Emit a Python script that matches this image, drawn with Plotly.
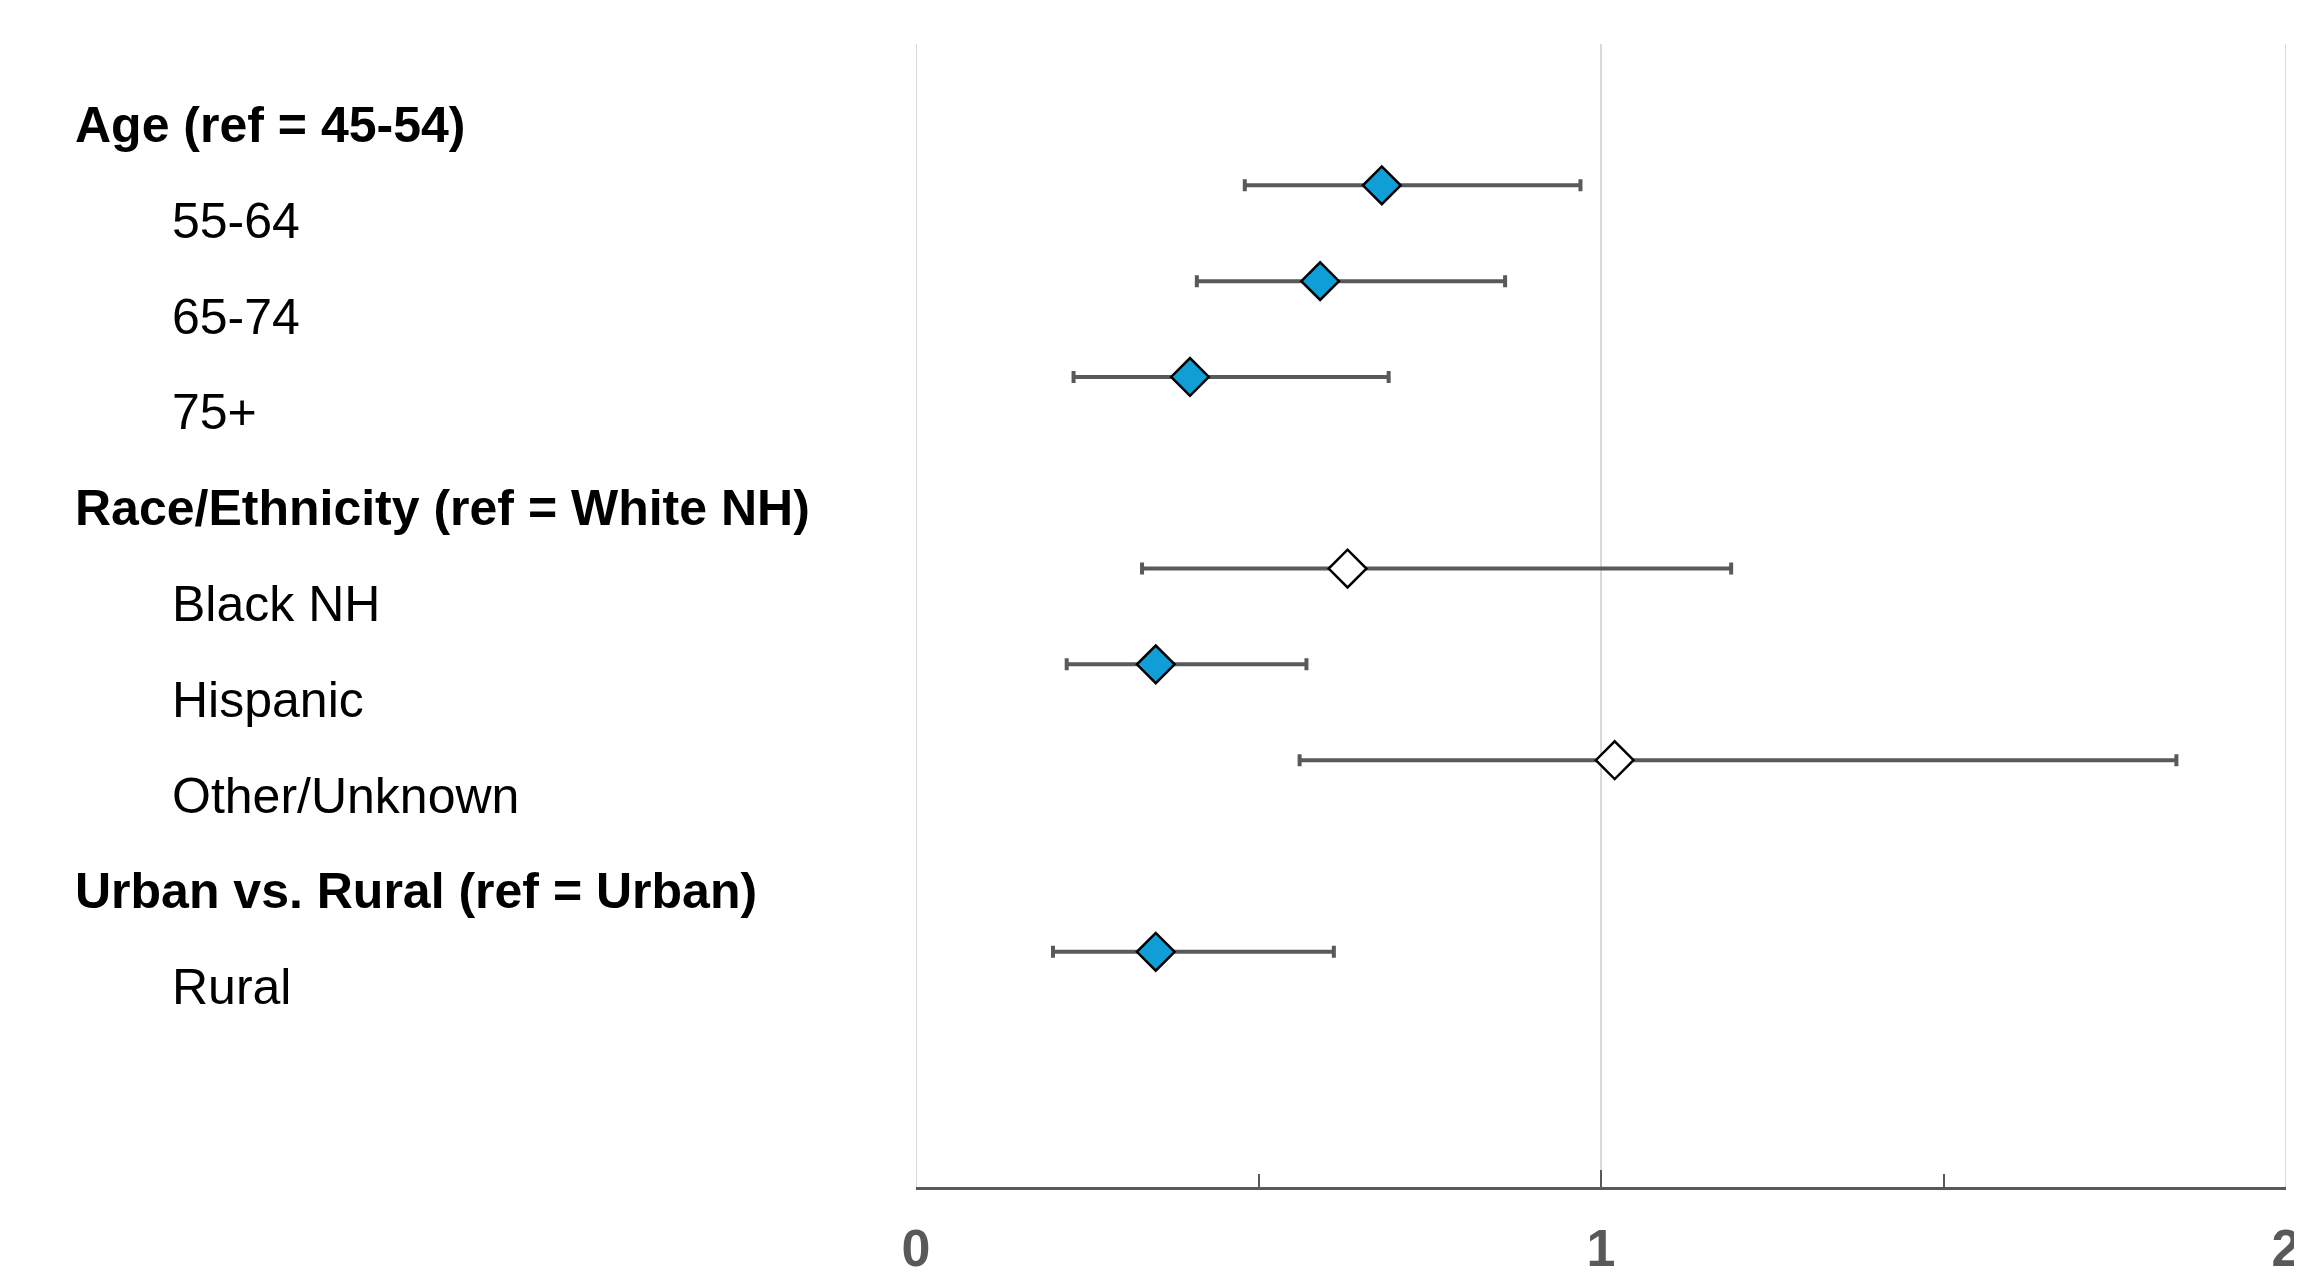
import plotly.graph_objects as go

# ---- data ----
row_labels = ["Age (ref = 45-54)", "55-64", "65-74", "75+",
              "Race/Ethnicity (ref = White NH)", "Black NH", "Hispanic", "Other/Unknown",
              "Urban vs. Rural (ref = Urban)", "Rural"]
row_is_header = [True, False, False, False, True, False, False, False, True, False]

categories = ["55-64", "65-74", "75+", "Black NH", "Hispanic", "Other/Unknown", "Rural"]
odds_ratio = [0.68, 0.59, 0.40, 0.63, 0.35, 1.02, 0.35]
ci_lower = [0.48, 0.41, 0.23, 0.33, 0.22, 0.56, 0.20]
ci_upper = [0.97, 0.86, 0.69, 1.19, 0.57, 1.84, 0.61]
significant = [True, True, True, False, True, False, True]

x_ticks = [0, 1, 2]
x_minor_ticks = [0.5, 1.5]

# ---- layout constants (page has an 8px body margin) ----
W, H = 2294, 1269
L, R, T, B = 908, 16, 36, 90
MARKER_SHIFT = -0.37           # markers sit slightly above their label rows
BLUE = "#0F9ED5"
GREY = "#595959"

y_pos = [row_labels.index(c) + MARKER_SHIFT for c in categories]
err_plus = [u - m for u, m in zip(ci_upper, odds_ratio)]
err_minus = [m - l for m, l in zip(odds_ratio, ci_lower)]
colors = [BLUE if s else "white" for s in significant]

fig = go.Figure()

# vertical gridlines at each major tick (incl. the range ends)
for xv in x_ticks:
    fig.add_shape(type="line", xref="x", yref="paper", x0=xv, x1=xv, y0=0, y1=1,
                  line=dict(color="#d9d9d9", width=2), layer="below")

fig.add_trace(go.Scatter(
    x=odds_ratio, y=y_pos, mode="markers",
    marker=dict(symbol="diamond", size=29, color=colors,
                line=dict(color="black", width=2.5)),
    error_x=dict(type="data", symmetric=False, array=err_plus, arrayminus=err_minus,
                 color=GREY, thickness=4, width=6),
    text=categories, hoverinfo="text+x",
    showlegend=False, cliponaxis=False,
))

plot_w = W - L - R
for i, (lab, hdr) in enumerate(zip(row_labels, row_is_header)):
    px = 65 if hdr else 162
    fig.add_annotation(
        x=(px - L) / plot_w, xref="paper", y=i, yref="y",
        xanchor="left", yanchor="middle", showarrow=False,
        text=f"<b>{lab}</b>" if hdr else lab,
        font=dict(family="Liberation Sans, Arial, sans-serif", size=50, color="black"),
    )

fig.update_layout(
    width=W, height=H,
    margin=dict(l=L, r=R, t=T, b=B, autoexpand=False),
    paper_bgcolor="white", plot_bgcolor="white",
    xaxis=dict(
        range=[0, 2], tickvals=x_ticks, ticktext=[str(v) for v in x_ticks],
        showgrid=False, zeroline=False,
        showline=True, linecolor=GREY, linewidth=3,
        ticks="inside", ticklen=17, tickwidth=2, tickcolor=GREY,
        ticklabelstandoff=14, ticklabeloverflow="allow",
        tickfont=dict(family="Liberation Sans Narrow, Arial Narrow, Liberation Sans, Arial",
                      size=52, color=GREY, weight="bold"),
        minor=dict(tickvals=x_minor_ticks, ticks="inside", ticklen=13, tickwidth=2,
                   tickcolor=GREY, showgrid=False),
        fixedrange=True,
    ),
    yaxis=dict(range=[11.085, -0.845], visible=False, showgrid=False, zeroline=False,
               fixedrange=True),
)

fig.write_html("out.html")
